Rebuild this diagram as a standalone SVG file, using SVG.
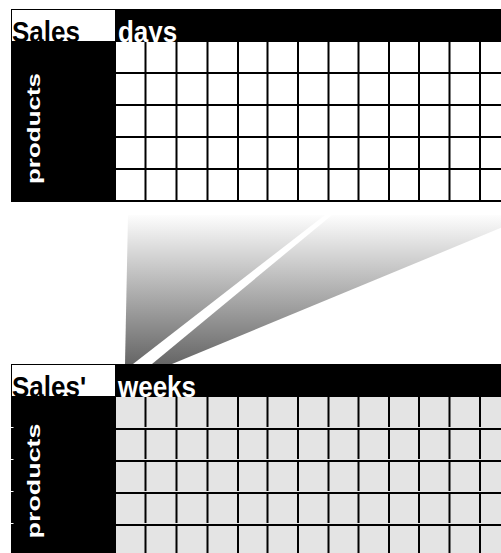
<svg xmlns="http://www.w3.org/2000/svg" width="501" height="553" viewBox="0 0 501 553">
<style>
.hdr{font-family:"Liberation Sans",Arial,sans-serif;font-weight:bold;font-size:26px}
.blk{fill:#000}
.wt{fill:#fff}
.side{font-family:"Liberation Sans",Arial,sans-serif;font-weight:bold;font-size:19px;fill:#fff}
.gl{stroke:#000;stroke-width:2;fill:none}
.tick{stroke:#fff;stroke-width:1}
</style>
<defs>
<linearGradient id="fan" gradientUnits="userSpaceOnUse" x1="0" y1="215" x2="0" y2="364">
<stop offset="0" stop-color="#fdfdfd"/>
<stop offset="1" stop-color="#666666"/>
</linearGradient>
</defs>
<rect width="501" height="553" fill="#fff"/>

<g id="fan-connector">
<polygon points="128,215 325,215 133,364 125,364" fill="url(#fan)"/>
<polygon points="332,215 532,215 172,364 152,364" fill="url(#fan)"/>
</g>

<g id="sales-days">
<rect x="116" y="9" width="385" height="33" class="blk"/>
<rect x="11.5" y="9.5" width="104" height="32" fill="#fff" stroke="#000" stroke-width="1"/>
<text transform="translate(12,41.5) scale(1,1.15)" class="hdr blk">Sales</text>
<text transform="translate(118,41.5) scale(1,1.15)" class="hdr wt">days</text>
<rect x="11" y="41" width="105" height="161" class="blk"/>
<rect x="116" y="42" width="385" height="159" fill="#fff"/>
<path class="gl" d="M116,73H501M116,105H501M116,137H501M116,169H501M11,201H501
M145.5,42V202M176.5,42V202M207.5,42V202M238,42V202M267.5,42V202M298,42V202M328.5,42V202M358.5,42V202M389,42V202M419,42V202M449.5,42V202M480,42V202"/>
<text transform="translate(40,184) rotate(-90)" class="side" textLength="111" lengthAdjust="spacingAndGlyphs">products</text>
</g>

<g id="sales-weeks">
<rect x="116" y="364" width="385" height="33" class="blk"/>
<rect x="11.5" y="364.5" width="104" height="32" fill="#fff" stroke="#000" stroke-width="1"/>
<text transform="translate(12,396.5) scale(1,1.15)" class="hdr blk">Sales'</text>
<text transform="translate(118,396.5) scale(1,1.15)" class="hdr wt">weeks</text>
<rect x="11" y="396" width="105" height="157" class="blk"/>
<rect x="116" y="397" width="385" height="156" fill="#e4e4e4"/>
<path class="gl" d="M116,429H501M116,461H501M116,493H501M116,525H501"/>
<path class="gl" d="M145.5,397V427M176.5,397V427M207.5,397V427M238,397V427M267.5,397V427M298,397V427M328.5,397V427M358.5,397V427M389,397V427M419,397V427M449.5,397V427M480,397V427
M145.5,430V459M176.5,430V459M207.5,430V459M238,430V459M267.5,430V459M298,430V459M328.5,430V459M358.5,430V459M389,430V459M419,430V459M449.5,430V459M480,430V459
M145.5,462V491M176.5,462V491M207.5,462V491M238,462V491M267.5,462V491M298,462V491M328.5,462V491M358.5,462V491M389,462V491M419,462V491M449.5,462V491M480,462V491
M145.5,494V523M176.5,494V523M207.5,494V523M238,494V523M267.5,494V523M298,494V523M328.5,494V523M358.5,494V523M389,494V523M419,494V523M449.5,494V523M480,494V523
M145.5,526V553M176.5,526V553M207.5,526V553M238,526V553M267.5,526V553M298,526V553M328.5,526V553M358.5,526V553M389,526V553M419,526V553M449.5,526V553M480,526V553"/>
<path class="tick" d="M11,427.5H13.5M11,459.5H13.5M11,491.5H13.5M11,523.5H13.5"/>
<text transform="translate(40,538.5) rotate(-90)" class="side" textLength="115" lengthAdjust="spacingAndGlyphs">products</text>
</g>
</svg>
